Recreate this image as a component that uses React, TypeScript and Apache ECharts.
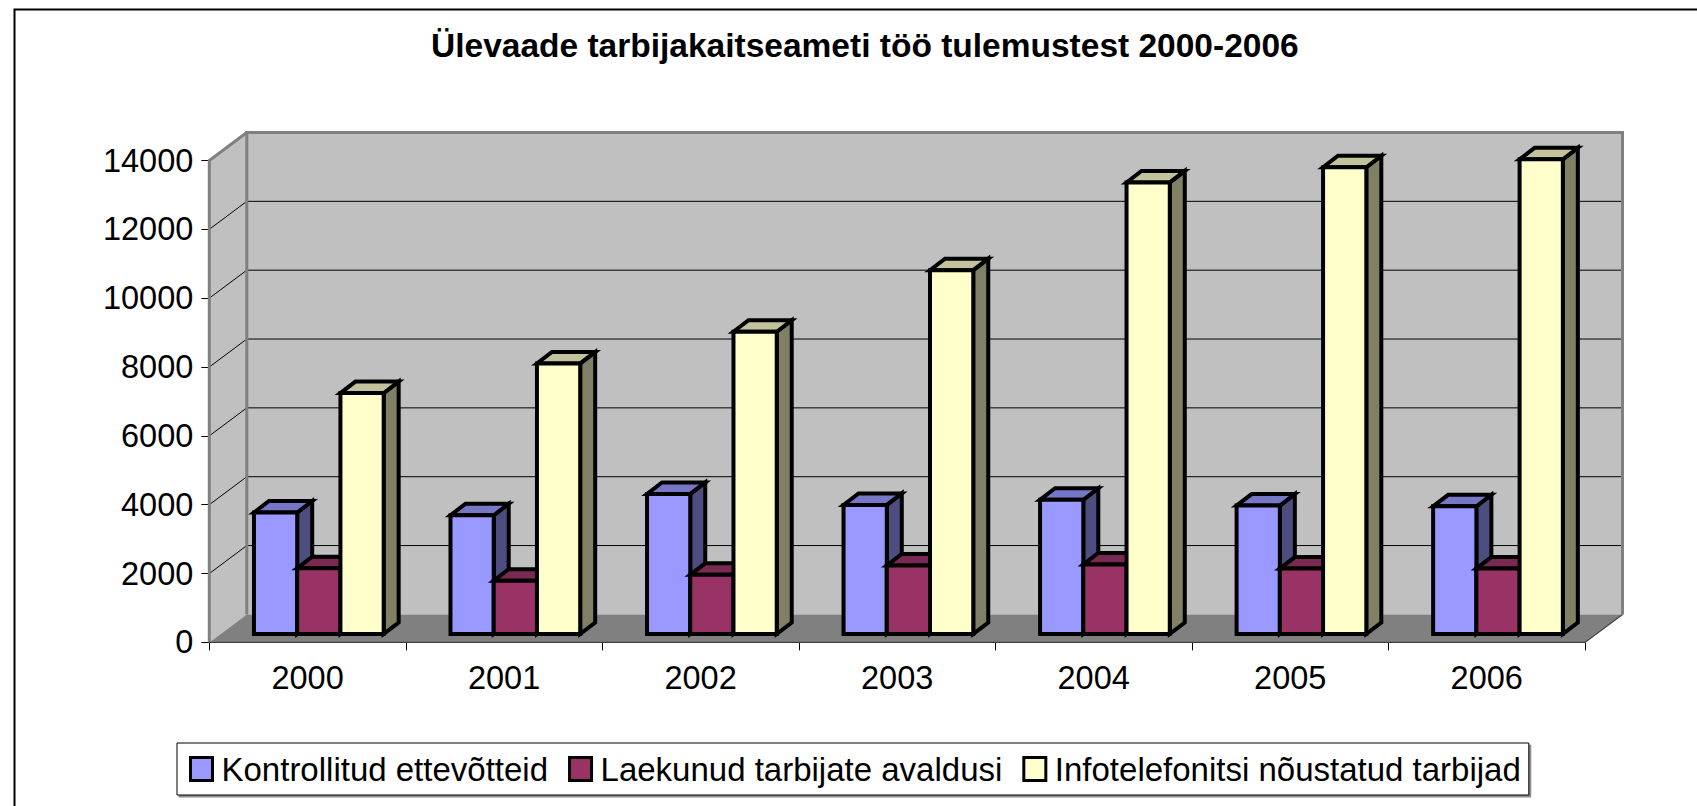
import React, { useEffect, useRef } from "react";
import * as echarts from "echarts";

// ---- Data ----
const CATEGORIES = ["2000", "2001", "2002", "2003", "2004", "2005", "2006"];
const SERIES_NAMES = [
  "Kontrollitud ettevõtteid",
  "Laekunud tarbijate avaldusi",
  "Infotelefonitsi nõustatud tarbijad",
];
const KONTROLLITUD = [3530, 3450, 4070, 3750, 3900, 3730, 3710];
const LAEKUNUD = [1910, 1550, 1720, 1990, 2020, 1900, 1900];
const INFOTELEFON = [7000, 7860, 8780, 10570, 13120, 13560, 13790];
const Y_TICKS = [0, 2000, 4000, 6000, 8000, 10000, 12000, 14000];
const TITLE = "Ülevaade tarbijakaitseameti töö tulemustest 2000-2006";

// ---- Styles / geometry ----
const FONT = "'Liberation Sans', Arial, Helvetica, sans-serif";
const FACES = [
  { front: "#9999ff", top: "#7777c8", side: "#4d4d80" },
  { front: "#993366", top: "#7a2952", side: "#4d1a33" },
  { front: "#ffffcc", top: "#c2c29c", side: "#808066" },
];
const WALL_DX = 37.5;
const WALL_DY = 28;
const BAR_FRONT_FRAC = 0.3;
const BAR_DX = 15;
const BAR_DY = 11.5;
const BAR_WIDTH_FRAC = 0.22;
const EDGE = "#000000";
const EDGE_W = 4;

const Y_MIN = Y_TICKS[0];
const Y_MAX = Y_TICKS[Y_TICKS.length - 1];
const Y_STEP = Y_TICKS[1] - Y_TICKS[0];

function makeBarRender(k: number) {
  return (params: any, api: any) => {
    const i = api.value(0);
    const v = api.value(1);
    const top = api.coord([i, v]);
    const base = api.coord([i, 0]);
    const band = api.size([1, 0])[0];
    const bw = band * BAR_WIDTH_FRAC;
    const fx = WALL_DX * BAR_FRONT_FRAC;
    const fy = WALL_DY * BAR_FRONT_FRAC;
    const x0 = top[0] + fx - 1.5 * bw + k * bw;
    const x1 = x0 + bw;
    const yT = top[1] - fy;
    const yB = base[1] - fy;
    const f = FACES[k];
    const common = { stroke: EDGE, lineWidth: EDGE_W, lineJoin: "miter" };
    return {
      type: "group",
      children: [
        {
          type: "polygon",
          shape: {
            points: [
              [x1, yT],
              [x1 + BAR_DX, yT - BAR_DY],
              [x1 + BAR_DX, yB - BAR_DY],
              [x1, yB],
            ],
          },
          style: { fill: f.side, ...common },
        },
        {
          type: "polygon",
          shape: {
            points: [
              [x0, yT],
              [x1, yT],
              [x1 + BAR_DX, yT - BAR_DY],
              [x0 + BAR_DX, yT - BAR_DY],
            ],
          },
          style: { fill: f.top, ...common },
        },
        {
          type: "rect",
          shape: { x: x0, y: yT, width: bw, height: yB - yT },
          style: { fill: f.front, ...common },
        },
      ],
    };
  };
}

function renderWalls(params: any, api: any) {
  const cs = params.coordSys;
  const xL = cs.x;
  const xR = cs.x + cs.width;
  const yTop = api.coord([0, Y_MAX])[1];
  const yBot = api.coord([0, Y_MIN])[1];
  const children: any[] = [];
  children.push({
    type: "rect",
    shape: { x: xL + WALL_DX, y: yTop - WALL_DY, width: xR - xL, height: yBot - yTop },
    style: { fill: "#c0c0c0" },
  });
  children.push({
    type: "polygon",
    shape: {
      points: [
        [xL, yBot],
        [xL, yTop],
        [xL + WALL_DX, yTop - WALL_DY],
        [xL + WALL_DX, yBot - WALL_DY],
      ],
    },
    style: { fill: "#c0c0c0" },
  });
  Y_TICKS.forEach((t) => {
    if (t === Y_MIN || t === Y_MAX) return;
    const y = api.coord([0, t])[1];
    children.push({
      type: "line",
      shape: { x1: xL + WALL_DX, y1: y - WALL_DY, x2: xR + WALL_DX, y2: y - WALL_DY },
      style: { stroke: "#000", lineWidth: 1 },
    });
    children.push({
      type: "line",
      shape: { x1: xL, y1: y, x2: xL + WALL_DX, y2: y - WALL_DY },
      style: { stroke: "#000", lineWidth: 1 },
    });
  });
  children.push({
    type: "polygon",
    shape: {
      points: [
        [xL, yBot],
        [xR, yBot],
        [xR + WALL_DX, yBot - WALL_DY],
        [xL + WALL_DX, yBot - WALL_DY],
      ],
    },
    style: { fill: "#808080" },
  });
  children.push({
    type: "polyline",
    shape: {
      points: [
        [xL + WALL_DX, yBot - WALL_DY],
        [xL + WALL_DX, yTop - WALL_DY],
        [xR + WALL_DX, yTop - WALL_DY],
        [xR + WALL_DX, yBot - WALL_DY],
      ],
    },
    style: { stroke: "#808080", lineWidth: 3, fill: null },
  });
  children.push({
    type: "polyline",
    shape: {
      points: [
        [xL, yBot],
        [xL, yTop],
        [xL + WALL_DX, yTop - WALL_DY],
      ],
    },
    style: { stroke: "#808080", lineWidth: 3, fill: null },
  });
  children.push({
    type: "polyline",
    shape: {
      points: [
        [xL, yBot],
        [xR, yBot],
        [xR + WALL_DX, yBot - WALL_DY],
      ],
    },
    style: { stroke: "#404040", lineWidth: 1.2, fill: null },
  });
  return { type: "group", children };
}

export default function App() {
  const ref = useRef<HTMLDivElement>(null);
  useEffect(() => {
    if (!ref.current) return;
    const chart = echarts.init(ref.current, null, { renderer: "svg" });
    const values = [KONTROLLITUD, LAEKUNUD, INFOTELEFON];
    const barSeries = values.map((vals, k) => ({
      type: "custom",
      name: SERIES_NAMES[k],
      coordinateSystem: "cartesian2d",
      clip: false,
      z: 3,
      itemStyle: { color: FACES[k].front },
      encode: { x: 0, y: 1 },
      data: vals.map((v, i) => [i, v]),
      renderItem: makeBarRender(k),
    }));
    chart.setOption({
      animation: false,
      backgroundColor: "#ffffff",
      title: {
        text: TITLE,
        left: 431,
        top: 28,
        padding: 0,
        textStyle: { fontFamily: FONT, fontSize: 33.5, fontWeight: "bold", color: "#000" },
      },
      legend: {
        data: SERIES_NAMES,
        left: 177,
        top: 743,
        orient: "horizontal",
        icon: "rect",
        itemWidth: 22,
        itemHeight: 23,
        itemGap: 20,
        padding: [8, 8, 8, 12],
        borderColor: "#000",
        borderWidth: 1,
        backgroundColor: "#fff",
        shadowColor: "rgba(0,0,0,0.45)",
        shadowOffsetX: 2,
        shadowOffsetY: 2,
        shadowBlur: 0,
        selectedMode: false,
        itemStyle: { borderColor: "#000", borderWidth: 3 },
        textStyle: {
          fontFamily: FONT,
          fontSize: 33,
          color: "#000",
          lineHeight: 36,
          padding: [0, 0, 0, 4],
        },
      },
      grid: {
        left: 209.3,
        right: 112,
        top: 160.5,
        bottom: 163.6,
        containLabel: false,
        outerBoundsMode: "none",
      },
      xAxis: {
        type: "category",
        data: CATEGORIES,
        boundaryGap: true,
        axisLine: { show: false },
        axisTick: { show: true, length: 8, lineStyle: { color: "#000", width: 1 } },
        axisLabel: { margin: 19, fontFamily: FONT, fontSize: 32.5, color: "#000" },
        splitLine: { show: false },
      },
      yAxis: {
        type: "value",
        min: Y_MIN,
        max: Y_MAX,
        interval: Y_STEP,
        axisLine: { show: false },
        axisTick: { show: true, length: 8, lineStyle: { color: "#000", width: 1 } },
        axisLabel: {
          margin: 16,
          fontFamily: FONT,
          fontSize: 32.5,
          color: "#000",
          formatter: (v: number) => String(v),
        },
        splitLine: { show: false },
      },
      graphic: [
        {
          type: "rect",
          left: 12,
          top: 7,
          shape: { x: 0, y: 0, width: 1800, height: 1000 },
          style: { fill: null, stroke: "#000", lineWidth: 2 },
          silent: true,
          z: 100,
        },
      ],
      series: [
        {
          type: "custom",
          name: "walls",
          coordinateSystem: "cartesian2d",
          clip: false,
          z: 1,
          silent: true,
          encode: { x: 0, y: 1 },
          data: [[0, 0]],
          renderItem: renderWalls,
        },
        ...barSeries,
      ],
    });
    return () => chart.dispose();
  }, []);
  return (
    <div
      ref={ref}
      style={{ position: "absolute", left: 0, top: 0, width: 1697, height: 806 }}
    />
  );
}
